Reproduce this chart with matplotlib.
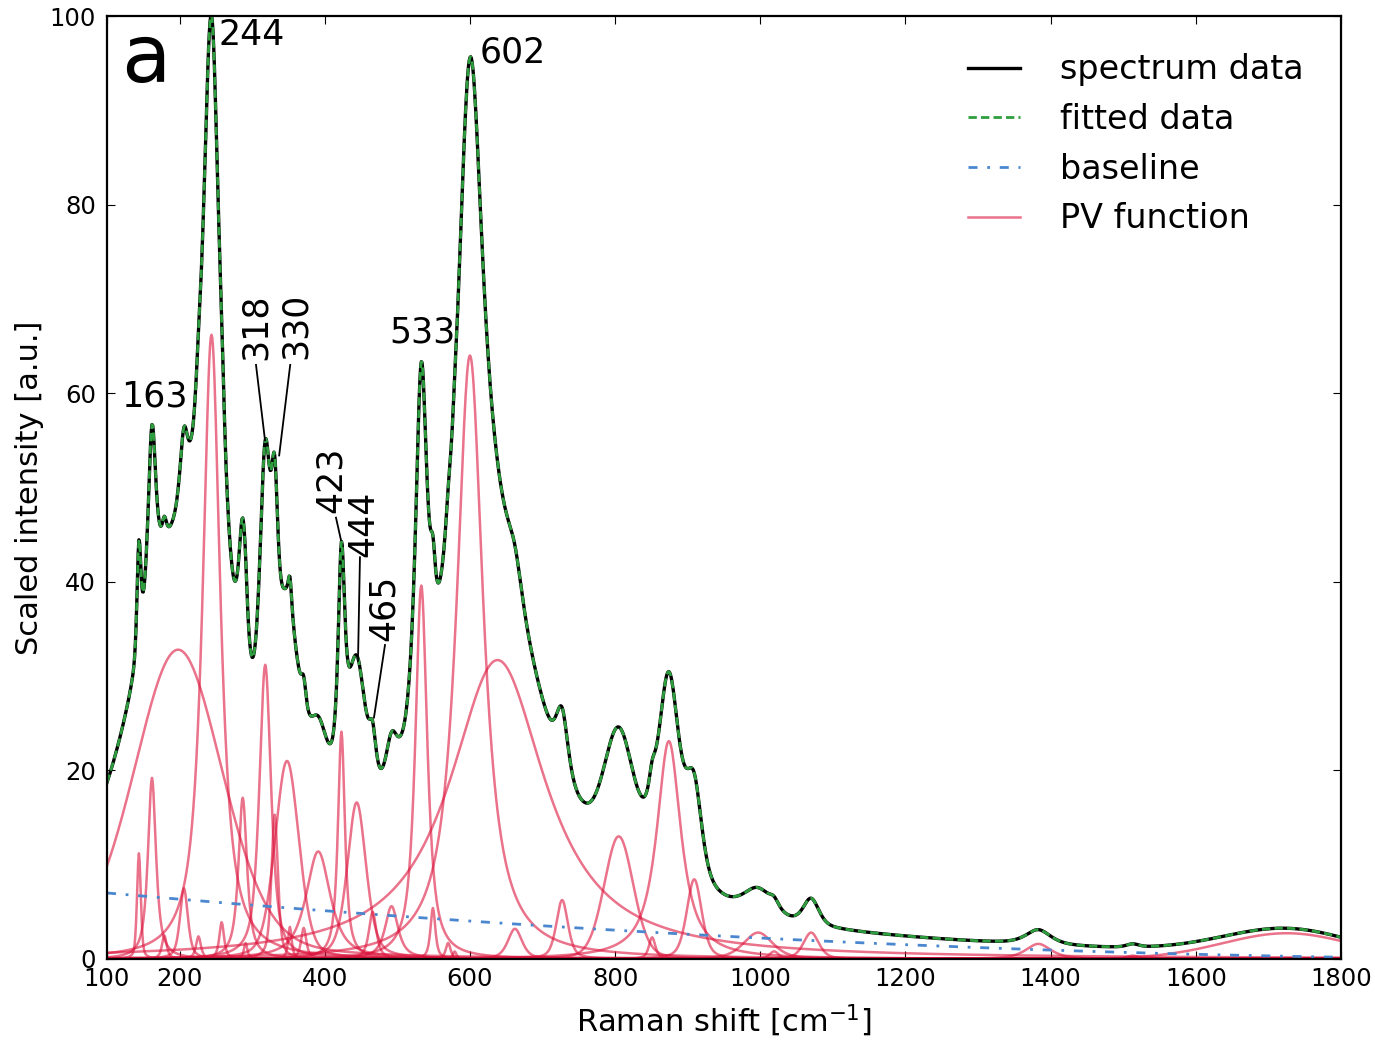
import numpy as np
import matplotlib

matplotlib.use("Agg")
import matplotlib.pyplot as plt

# PV components: centre [cm-1], height, FWHM [cm-1], Lorentz fraction
CENTERS = [144, 162, 179, 198, 206, 226, 244, 258, 287, 291, 318, 331, 348, 352,
           371, 391, 423, 444, 466, 492, 533, 549, 570, 579, 600, 638, 662, 727,
           805, 851, 874, 909, 997, 1019, 1070, 1383, 1513, 1725]
HEIGHTS = [11.2, 19.2, 2.5, 32.8, 7.5, 2.4, 66.2, 3.9, 17.1, 1.7, 31.2, 15.3, 21.0, 3.4,
           3.3, 11.4, 24.1, 16.6, 5.0, 5.6, 39.6, 5.4, 1.7, 0.8, 64.0, 31.7, 3.2, 6.25,
           13.0, 2.3, 23.1, 8.45, 2.8, 0.8, 2.8, 1.6, 0.35, 2.73]
FWHM = [6.2, 13.2, 7.8, 145.3, 12.9, 8.1, 29.1, 7.9, 14.1, 5.8, 19.1, 10.5, 39.1, 5.9,
        8.6, 40.1, 11.5, 30.8, 12.4, 21.5, 19.6, 8.1, 7.9, 6.0, 44.1, 159.8, 23.2, 19.1,
        47.6, 10.6, 40.0, 24.5, 47.7, 15.1, 25.4, 41.6, 20.2, 210.1]
ETA = [0.45, 0.84, 0.78, 0.25, 0.62, 0.81, 0.91, 0.78, 0.87, 0.80, 0.70, 0.58, 0.30, 0.82,
       0.76, 0.80, 0.88, 0.47, 0.78, 0.87, 0.85, 0.75, 0.79, 0.80, 0.95, 0.97, 0.57, 0.52,
       0.20, 0.69, 0.93, 0.43, 0.48, 0.52, 0.46, 0.71, 0.53, 0.08]

# quadratic baseline: b0 + b1*(x-100) + b2*(x-100)**2
BASELINE_COEF = [7.0, -6.775e-3, 1.626e-6]

X_TICKS = [100, 200, 400, 600, 800, 1000, 1200, 1400, 1600, 1800]
Y_TICKS = [0, 20, 40, 60, 80, 100]

# peak labels: text, x, y, rotation
LABELS = [("163", 164.7, 59.6, 0), ("244", 299.7, 98.0, 0), ("602", 659.3, 96.1, 0),
          ("533", 534.0, 66.4, 0), ("318", 305.3, 67.1, 90), ("330", 359.7, 67.1, 90),
          ("423", 408.6, 50.8, 90), ("444", 452.7, 46.2, 90), ("465", 480.9, 37.2, 90)]
# leader lines: (x0, y0, x1, y1)
LEADERS = [(305.3, 63.0, 317.7, 55.0), (352.4, 63.0, 337.2, 53.4),
           (415.5, 46.8, 422.4, 44.4), (448.5, 42.6, 445.8, 31.6),
           (483.0, 33.3, 467.8, 25.6)]


def pseudo_voigt(x, c, h, w, eta):
    u = (x - c) / (w / 2.0)
    return h * (eta / (1.0 + u ** 2) + (1.0 - eta) * np.exp(-np.log(2.0) * u ** 2))


plt.rcParams.update({
    "font.family": "DejaVu Sans",
    "xtick.direction": "in",
    "ytick.direction": "in",
    "xtick.top": True,
    "ytick.right": True,
    "xtick.major.size": 6,
    "ytick.major.size": 6,
    "xtick.major.pad": 6,
    "ytick.major.pad": 8,
    "xtick.labelsize": 17.5,
    "ytick.labelsize": 17.5,
    "lines.scale_dashes": False,
})

x = np.linspace(100, 1800, 1701)
u = x - 100
baseline = BASELINE_COEF[0] + BASELINE_COEF[1] * u + BASELINE_COEF[2] * u ** 2
peaks = [pseudo_voigt(x, c, h, w, e) for c, h, w, e in zip(CENTERS, HEIGHTS, FWHM, ETA)]
fitted = baseline + np.sum(peaks, axis=0)

fig = plt.figure(figsize=(13.75, 10.41), dpi=100)
ax = fig.add_axes([0.0778, 0.0788, 0.8975, 0.9058])

for p in peaks:
    pv_line, = ax.plot(x, p, color="crimson", alpha=0.6, lw=1.8)
base_line, = ax.plot(x, baseline, color="#4a87cf", lw=2, dashes=[6.5, 7, 2, 7])
spec_line, = ax.plot(x, fitted, color="black", lw=2.4)
fit_line, = ax.plot(x, fitted, color="#2e9e3e", lw=2.0, dashes=[6, 3])

for txt, tx, ty, rot in LABELS:
    ax.text(tx, ty, txt, fontsize=25, rotation=rot, ha="center", va="center")
for x0, y0, x1, y1 in LEADERS:
    ax.plot([x0, x1], [y0, y1], color="black", lw=1.3)
ax.text(119.3, 93.0, "a", fontsize=58, ha="left", va="baseline")

ax.set_xlim(100, 1800)
ax.set_ylim(0, 100)
ax.set_xticks(X_TICKS)
ax.set_yticks(Y_TICKS)
ax.set_xlabel("Raman shift [cm$^{-1}$]", fontsize=22, labelpad=8)
ax.set_ylabel("Scaled intensity [a.u.]", fontsize=22, labelpad=4)
for s in ax.spines.values():
    s.set_linewidth(1.6)

ax.legend([spec_line, fit_line, base_line, pv_line],
          ["spectrum data", "fitted data", "baseline", "PV function"],
          loc="upper right", frameon=False, fontsize=24, handlelength=1.55,
          handletextpad=1.2, labelspacing=0.5, borderaxespad=0.72)

fig.savefig("out.png")
